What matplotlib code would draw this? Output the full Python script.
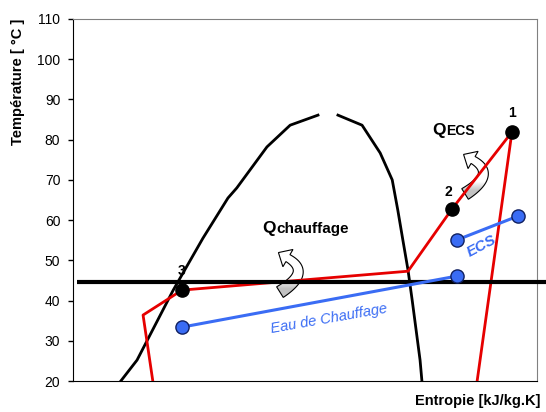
import numpy as np
import matplotlib
matplotlib.use("Agg")
import matplotlib.pyplot as plt
from matplotlib.patches import Polygon

plt.rcParams['font.family'] = ['Liberation Sans', 'DejaVu Sans']

# Courbe de saturation (cloche) : entropie [kJ/kg.K], température [°C]
s_liq = [1.103, 1.138, 1.216, 1.280, 1.334, 1.353, 1.418, 1.468, 1.528]
T_liq = [20.0, 25.2, 42.6, 55.5, 65.5, 68.0, 78.2, 83.6, 86.1]
s_vap = [1.571, 1.623, 1.662, 1.688, 1.700, 1.711, 1.722, 1.731, 1.748, 1.752]
T_vap = [86.1, 83.6, 76.7, 70.0, 62.5, 55.0, 47.6, 40.1, 25.2, 20.0]

# Cycle du fluide frigorigène
s_cycle = [1.172, 1.151, 1.235, 1.722, 1.817, 1.946, 1.871]
T_cycle = [20.0, 36.4, 42.6, 47.3, 62.8, 81.9, 20.0]

# Points remarquables 1, 2, 3
pt_labels = ['1', '2', '3']
s_pts = [1.946, 1.817, 1.235]
T_pts = [81.9, 62.8, 42.6]

# Eau de chauffage et ECS (entrée / sortie)
s_chauff = [1.235, 1.828]
T_chauff = [33.4, 46.1]
s_ecs = [1.828, 1.959]
T_ecs = [55.1, 61.0]

# Température de condensation
T_cond = 44.7
s_cond = [1.009, 2.019]

RED = '#e60000'
BLUE = '#3a6cf4'

fig = plt.figure(figsize=(5.46, 4.12), dpi=100)
ax = fig.add_axes([0.1337, 0.0752, 0.8498, 0.8787])
XLIM, YLIM = (1.0, 2.0), (20, 110)
ax.set_xlim(*XLIM)
ax.set_ylim(*YLIM)
ax.set_yticks(np.arange(20, 111, 10))
ax.set_xticks([])
ax.tick_params(axis='y', direction='out', length=3.6, width=1, pad=5.5,
               labelsize=10)
for side in ['left', 'bottom']:
    ax.spines[side].set_color('black')
for side in ['top', 'right']:
    ax.spines[side].set_color('#808080')

ax.plot(s_liq, T_liq, color='black', lw=2, zorder=3)
ax.plot(s_vap, T_vap, color='black', lw=2, zorder=3)
ax.plot(s_cycle, T_cycle, color=RED, lw=2, zorder=4)
ax.plot(s_cond, [T_cond, T_cond], color='black', lw=3, zorder=5,
        clip_on=False, solid_capstyle='butt')

for s, T in [(s_chauff, T_chauff), (s_ecs, T_ecs)]:
    ax.plot(s, T, color=BLUE, lw=2.2, marker='o', ms=9.5, mfc=BLUE,
            mec='#102060', mew=1, zorder=6)

ax.plot(s_pts, T_pts, ls='none', marker='o', ms=9.5, mfc='black',
        mec='black', zorder=6)
offsets = [(0, 4.7), (-0.009, 4.2), (0, 4.7)]
for lab, s, T, (ds, dT) in zip(pt_labels, s_pts, T_pts, offsets):
    ax.text(s + ds, T + dT, lab, fontsize=10, fontweight='bold',
            ha='center', va='center', zorder=4.5)


def bent_arrow(anchor):
    """Flèche courbe en U (queue grise -> pointe blanche), tracée en pixels
    autour du point d'ancrage (centre de la queue)."""
    x0, y0 = ax.transData.transform(anchor)
    P0 = np.array([0.0, 0.0])
    P1 = np.array([32.0, 20.0])
    P2 = np.array([8.0, 34.0])
    t = np.linspace(0, 1, 50)[:, None]
    C = (1 - t) ** 2 * P0 + 2 * t * (1 - t) * P1 + t ** 2 * P2
    D = 2 * (1 - t) * (P1 - P0) + 2 * t * (P2 - P1)
    D /= np.linalg.norm(D, axis=1)[:, None]
    N = np.column_stack([-D[:, 1], D[:, 0]])
    w = (12.5 + (8.0 - 12.5) * t) / 2
    outer = C - N * w
    inner = C + N * w
    d, n = D[-1], N[-1]
    head = [P2 - n * 10, P2 + d * 11, P2 + n * 10]
    pix = np.vstack([outer, head, inner[::-1]]) + [x0, y0]
    verts = ax.transData.inverted().transform(pix)

    # dégradé gris -> blanc du bas vers le haut
    ys = np.linspace(pix[:, 1].min(), pix[:, 1].max(), 100)
    rel = ys - y0
    vals = 0.76 + 0.24 * np.clip((rel - 3) / 9, 0, 1)
    (xa, ya), (xb, yb) = ax.transData.inverted().transform(
        [[pix[:, 0].min(), ys[0]], [pix[:, 0].max(), ys[-1]]])
    im = ax.imshow(vals[:, None], cmap='gray', vmin=0, vmax=1,
                   extent=[xa, xb, ya, yb], origin='lower', aspect='auto',
                   interpolation='bilinear', zorder=2)
    outline = Polygon(verts, closed=True, fc='none', ec='black', lw=0.8,
                      zorder=2.2)
    ax.add_patch(outline)
    im.set_clip_path(outline)


bent_arrow((1.845, 66.5))
bent_arrow((1.446, 42.1))
ax.set_xlim(*XLIM)
ax.set_ylim(*YLIM)

# Flux de chaleur
ax.text(1.804, 81.2, 'Q', fontsize=12.5, fontweight='bold', ha='right',
        va='baseline')
ax.text(1.804, 81.2, 'ECS', fontsize=10, fontweight='bold', ha='left',
        va='baseline')
ax.text(1.4375, 56.8, 'Q', fontsize=12.5, fontweight='bold', ha='right',
        va='baseline')
ax.text(1.4375, 56.8, 'chauffage', fontsize=11, fontweight='bold', ha='left',
        va='baseline')

ax.text(1.881, 53.6, 'ECS', color=BLUE, fontsize=11, fontweight='bold',
        style='italic', rotation=28, ha='center', va='center', zorder=7)
ax.text(1.552, 35.4, 'Eau de Chauffage', color=BLUE, fontsize=10.5,
        style='italic', rotation=10, ha='center', va='center', zorder=7)

fig.text(18 / 546, 1 - 82 / 412, 'Température [ °C ]', rotation=90,
         fontsize=10.5, fontweight='bold', ha='center', va='center')
fig.text(478 / 546, 1 - 401 / 412, 'Entropie [kJ/kg.K]', fontsize=10.5,
         fontweight='bold', ha='center', va='center')

fig.savefig('out.png', dpi=100)
